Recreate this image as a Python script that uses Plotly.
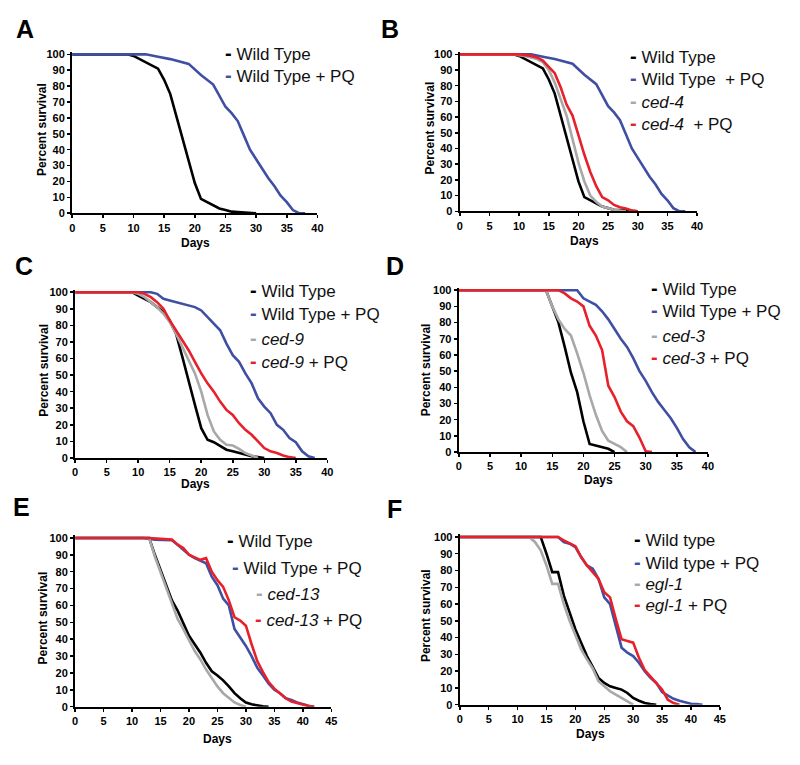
import plotly.graph_objects as go

FONT = "Arial, Liberation Sans, Helvetica, sans-serif"
BLACK = "#000000"
BLUE = "#3f4fa3"
GRAY = "#a8a8a8"
RED = "#e8202a"

# ---------------- data (days, percent survival) ----------------
# Panel A / B shared wild-type curves
A_wt_days = [0, 9, 10, 11, 12, 13, 14, 15, 16, 17, 18, 19, 20, 21, 22, 23, 24, 25, 26, 27, 28, 30]
A_wt_surv = [100, 100, 99, 97, 95, 93, 91, 84, 75, 61, 47, 34, 19, 9, 7, 5, 3, 2, 1, 0.7, 0.4, 0]
A_pq_days = [0, 12, 14, 16, 19, 21, 23, 25, 26, 27, 28, 29, 30, 31, 32, 33, 34, 35, 36, 37, 38]
A_pq_surv = [100, 100, 98.5, 97, 94, 87, 81, 67, 63, 58, 49, 40, 34, 28, 22, 17, 11, 7, 2, 0, 0]

B_ced4_days = [0, 9, 10, 11, 12, 13, 14, 15, 16, 17, 18, 19, 20, 21, 22, 23, 24, 25, 26, 27, 28]
B_ced4_surv = [100, 100, 99.5, 99, 98, 97, 95, 90, 82, 71, 61, 46, 31, 19, 10, 6, 3, 2, 1, 0.5, 0]
B_ced4pq_days = [0, 10, 12, 13, 14, 15, 16, 17, 18, 19, 20, 21, 22, 23, 24, 25, 26, 27, 28, 29, 30]
B_ced4pq_surv = [100, 100, 99, 98, 96, 92, 88, 79, 68, 61, 48, 36, 25, 16, 9, 7, 4, 2.5, 1.7, 0.5, 0]

C_wt_days = [0, 9, 10, 11, 12, 13, 14, 15, 16, 17, 18, 19, 20, 21, 22, 23, 24, 25, 26, 27, 28, 29, 30]
C_wt_surv = [100, 100, 98, 96, 94, 91, 88, 83, 75, 61, 46, 32, 18, 11, 9.5, 7, 5, 4, 3, 2, 1, 0.5, 0]
C_pq_days = [0, 12, 13, 14, 15, 16, 17, 18, 19, 20, 21, 22, 23, 24, 25, 26, 27, 28, 29, 30, 31, 32, 33, 34, 35, 36, 37, 38]
C_pq_surv = [100, 100, 99, 96, 95, 94, 93, 92, 91, 89, 85, 81, 77, 69, 62, 58, 51, 45, 36, 31, 27, 20, 17, 12, 9.5, 4, 1, 0]
C_ced9_days = [0, 9, 10, 11, 12, 13, 14, 15, 16, 17, 18, 19, 20, 21, 22, 23, 24, 25, 26, 27, 28, 29]
C_ced9_surv = [100, 100, 99, 97, 94, 91, 87, 82, 75, 67, 59, 51, 40, 26, 16, 11, 8, 7.5, 5.5, 3, 1.5, 0]
C_ced9pq_days = [0, 10, 11, 12, 13, 14, 15, 16, 17, 18, 19, 20, 21, 22, 23, 24, 25, 26, 27, 28, 29, 30, 31, 32, 33, 34, 35]
C_ced9pq_surv = [100, 100, 99, 97, 94, 90, 83, 77, 71, 65, 58, 51, 45, 40, 34, 29, 26, 21, 17, 14, 10, 6, 4, 3, 1.5, 0.5, 0]

D_wt_days = [0, 14, 15, 16, 17, 18, 19, 20, 21, 22, 23, 24, 25]
D_wt_surv = [100, 100, 90, 80, 65, 49, 37, 19, 5, 4, 3, 2, 0]
D_pq_days = [0, 19, 20, 21, 22, 23, 24, 25, 26, 27, 28, 29, 30, 31, 32, 33, 34, 35, 36, 37, 38]
D_pq_surv = [100, 100, 95, 93, 91, 87, 82, 76, 70, 65, 58, 50, 44, 37, 31, 26, 21, 15, 8, 3, 0]
D_ced3_days = [0, 14, 15, 16, 17, 18, 19, 20, 21, 22, 23, 24, 25, 26, 27]
D_ced3_surv = [100, 100, 90, 82, 76, 72, 61, 49, 35, 23, 13, 7, 5, 3, 0]
D_ced3pq_days = [0, 16, 17, 18, 19, 20, 21, 22, 23, 24, 25, 26, 27, 28, 29, 30, 31]
D_ced3pq_surv = [100, 100, 98, 95, 93, 90, 78, 72, 63, 41, 34, 25, 19, 16, 9, 0.5, 0]

E_wt_days = [0, 13, 14, 15, 16, 17, 18, 19, 20, 21, 22, 23, 24, 25, 26, 27, 28, 29, 30, 31, 32, 33, 34]
E_wt_surv = [100, 100, 90, 81, 71, 63, 57, 49, 42, 37, 32, 26, 21, 18.5, 15.6, 12, 8, 5, 2.5, 1.4, 0.6, 0.2, 0]
E_pq_days = [0, 12, 14, 17, 18, 19, 20, 21, 22, 23, 24, 25, 26, 27, 28, 29, 30, 31, 32, 33, 34, 35, 36, 37, 38, 39, 40, 41, 42]
E_pq_surv = [100, 100, 99, 98.6, 96, 93, 90, 88, 86.5, 85, 77, 72, 64, 60, 46, 41, 36, 30, 23, 18.5, 13.7, 10, 8, 5, 4, 2.5, 1.4, 0.6, 0]
E_ced13_days = [0, 13, 14, 15, 16, 17, 18, 19, 20, 21, 22, 23, 24, 25, 26, 27, 28, 29, 30]
E_ced13_surv = [100, 100, 89, 80, 70, 61, 52, 46, 39, 33, 28, 22, 17, 12, 8, 5, 2.5, 1, 0]
E_ced13pq_days = [0, 13, 17, 18, 19, 20, 21, 22, 23, 24, 25, 26, 27, 28, 29, 30, 31, 32, 33, 34, 35, 36, 37, 38, 39, 40, 41, 42]
E_ced13pq_surv = [100, 100, 99, 96, 94, 90, 88.5, 87, 88, 80, 75, 71, 63, 53, 51, 48, 37, 27, 20.5, 14.6, 10.7, 8, 5, 3, 2, 1, 0.4, 0]

F_wt_days = [0, 14, 15, 16, 17, 18, 19, 20, 21, 22, 23, 24, 25, 26, 27, 28, 29, 30, 31, 32, 33, 34]
F_wt_surv = [100, 100, 90, 79, 79, 65, 55, 45, 37, 29, 22.5, 16, 13, 11, 10, 9, 7, 4, 2.4, 1, 0.4, 0]
F_pq_days = [0, 17, 18, 19, 20, 21, 22, 23, 24, 25, 26, 27, 28, 29, 30, 31, 32, 33, 34, 35, 36, 37, 38, 39, 40, 41, 42]
F_pq_surv = [100, 100, 97, 96, 94, 88, 83, 81, 75, 64, 60, 47, 34, 31, 29, 25, 20, 16, 13, 7.5, 5.5, 3.5, 2.4, 1.6, 0.6, 0.4, 0]
F_egl1_days = [0, 12, 13, 14, 15, 16, 17, 18, 19, 20, 21, 22, 23, 24, 25, 26, 27, 28, 29, 30]
F_egl1_surv = [100, 100, 97, 92, 83, 72, 72, 60, 50, 41, 33, 27, 21.6, 14, 11, 8, 6, 4, 1.6, 0]
F_egl1pq_days = [0, 17, 18, 19, 20, 21, 22, 23, 24, 25, 26, 27, 28, 29, 30, 31, 32, 33, 34, 35, 36, 37, 38]
F_egl1pq_surv = [100, 100, 98, 96, 94.5, 88, 83, 79, 75, 67, 64, 51, 39, 38, 37, 28, 20.6, 16.7, 13, 9, 3, 1, 0]

panel_letters = ["A", "B", "C", "D", "E", "F"]
x_tick_max = [40, 40, 40, 40, 45, 45]
y_ticks = list(range(0, 101, 10))
x_title = "Days"
y_title = "Percent survival"

# series per panel: (label html, color, days, survival)
panels = [
    [("Wild Type", BLACK, A_wt_days, A_wt_surv),
     ("Wild Type + PQ", BLUE, A_pq_days, A_pq_surv)],
    [("Wild Type", BLACK, A_wt_days, A_wt_surv),
     ("Wild Type  + PQ", BLUE, A_pq_days, A_pq_surv),
     ("<i>ced-4</i>", GRAY, B_ced4_days, B_ced4_surv),
     ("<i>ced-4</i>  + PQ", RED, B_ced4pq_days, B_ced4pq_surv)],
    [("Wild Type", BLACK, C_wt_days, C_wt_surv),
     ("Wild Type + PQ", BLUE, C_pq_days, C_pq_surv),
     ("<i>ced-9</i>", GRAY, C_ced9_days, C_ced9_surv),
     ("<i>ced-9</i> + PQ", RED, C_ced9pq_days, C_ced9pq_surv)],
    [("Wild Type", BLACK, D_wt_days, D_wt_surv),
     ("Wild Type + PQ", BLUE, D_pq_days, D_pq_surv),
     ("<i>ced-3</i>", GRAY, D_ced3_days, D_ced3_surv),
     ("<i>ced-3</i> + PQ", RED, D_ced3pq_days, D_ced3pq_surv)],
    [("Wild Type", BLACK, E_wt_days, E_wt_surv),
     ("Wild Type + PQ", BLUE, E_pq_days, E_pq_surv),
     ("<i>ced-13</i>", GRAY, E_ced13_days, E_ced13_surv),
     ("<i>ced-13</i> + PQ", RED, E_ced13pq_days, E_ced13pq_surv)],
    [("Wild type", BLACK, F_wt_days, F_wt_surv),
     ("Wild type + PQ", BLUE, F_pq_days, F_pq_surv),
     ("<i>egl-1</i>", GRAY, F_egl1_days, F_egl1_surv),
     ("<i>egl-1</i> + PQ", RED, F_egl1pq_days, F_egl1pq_surv)],
]

# ---------------- layout geometry (pixels) ----------------
W, H = 800, 765
# plot area: x_left, x_right, y(100%), y(0%)
boxes = [(70, 318, 51, 212), (462, 702, 51, 210), (73, 328, 292, 460),
         (461, 713, 290, 454), (73, 332, 541, 712), (462, 725, 540, 710)]
letter_pos = [(22, 25), (391, 25), (21, 265), (396, 265), (19, 510), (396, 512)]
ytitle_pos = [(40, 127), (432, 126), (42, 371), (428, 371), (40, 622), (428, 620)]
xtitle_pos = [(195, 242), (588, 240), (195, 486), (602, 482), (217, 745), (594, 740)]
# legend rows: (x of dash, y of each row)
legend_pos = [
    [(222, 50), (222, 72)],
    [(632, 53), (632, 75), (632, 98), (632, 121)],
    [(248, 290), (248, 313), (248, 338), (248, 362)],
    [(653, 288), (653, 310), (653, 335), (653, 358)],
    [(225, 543), (230, 570), (254, 597), (253, 623)],
    [(636, 542), (636, 565), (636, 587), (636, 608)],
]

YTOP = 101.5

fig = go.Figure()
layout = dict(width=W, height=H, margin=dict(l=0, r=0, t=0, b=0),
              paper_bgcolor="white", plot_bgcolor="white", showlegend=False,
              font=dict(family=FONT, color="black"))
annotations = []

tickfont = dict(family=FONT, size=11, color="black", weight="bold")

for i, series in enumerate(panels):
    n = i + 1
    xl, xr, yt, yb = boxes[i]
    ytop_px = yt - (YTOP - 100) * (yb - yt) / 100.0
    xa = dict(domain=[xl / W, xr / W], range=[0, x_tick_max[i]], tick0=0, dtick=5,
              ticks="outside", ticklen=3, tickwidth=1.5, tickcolor="black",
              showline=True, linewidth=2.2, linecolor="black", showgrid=False,
              zeroline=False, tickfont=tickfont, anchor=f"y{n}", fixedrange=True)
    ya = dict(domain=[1 - yb / H, 1 - ytop_px / H], range=[0, YTOP], tickvals=y_ticks,
              ticks="outside", ticklen=3, tickwidth=1.5, tickcolor="black",
              showline=True, linewidth=2.2, linecolor="black", showgrid=False,
              zeroline=False, tickfont=tickfont, anchor=f"x{n}", fixedrange=True)
    layout["xaxis" if n == 1 else f"xaxis{n}"] = xa
    layout["yaxis" if n == 1 else f"yaxis{n}"] = ya

    for name, color, days, surv in series:
        fig.add_trace(go.Scatter(x=days, y=surv, mode="lines", name=name,
                                 line=dict(color=color, width=2.6),
                                 xaxis=f"x{n}", yaxis=f"y{n}", hoverinfo="skip"))

    # legend entries
    for (name, color, _, _), (lx, ly) in zip(series, legend_pos[i]):
        annotations.append(dict(
            text=f"<span style='color:{color};font-weight:900;font-size:20px'>-</span> {name}",
            x=lx / W, y=1 - ly / H, xref="paper", yref="paper",
            xanchor="left", yanchor="middle", showarrow=False,
            font=dict(family=FONT, size=17, color="#111111")))

    # panel letter
    lx, ly = letter_pos[i]
    annotations.append(dict(text=f"<b>{panel_letters[i]}</b>", x=lx / W, y=1 - ly / H,
                            xref="paper", yref="paper", xanchor="center", yanchor="middle",
                            showarrow=False, font=dict(family=FONT, size=25, color="black")))
    # axis titles
    tx, ty = xtitle_pos[i]
    annotations.append(dict(text=f"<b>{x_title}</b>", x=tx / W, y=1 - ty / H,
                            xref="paper", yref="paper", xanchor="center", yanchor="middle",
                            showarrow=False, font=dict(family=FONT, size=12, color="black")))
    tx, ty = ytitle_pos[i]
    annotations.append(dict(text=f"<b>{y_title}</b>", x=tx / W, y=1 - ty / H,
                            xref="paper", yref="paper", xanchor="center", yanchor="middle",
                            textangle=-90, showarrow=False,
                            font=dict(family=FONT, size=12, color="black")))

layout["annotations"] = annotations
fig.update_layout(**layout)
fig.write_html("out.html", config={"displayModeBar": False, "staticPlot": True},
               post_script="document.body.style.margin='0px';document.body.style.padding='0px';")
